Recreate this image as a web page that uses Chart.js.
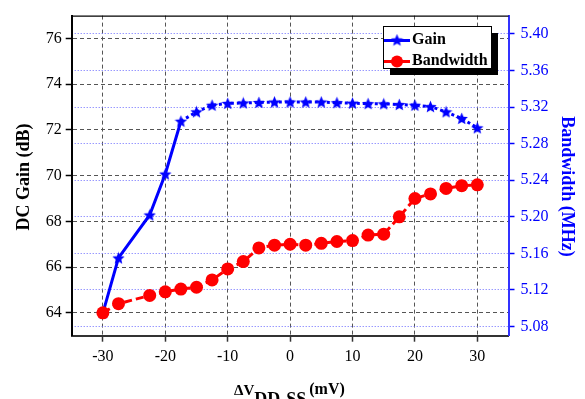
<!DOCTYPE html>
<html>
<head>
<meta charset="utf-8">
<script src="https://cdn.jsdelivr.net/npm/chart.js@4"></script>
<style>
  html, body { margin: 0; padding: 0; background: #fff; }
  #wrap { width: 585px; height: 399px; position: relative; }
</style>
</head>
<body>
<div id="wrap"><canvas id="c" width="585" height="399"></canvas></div>
<script>
// Supply-voltage offset sweep (mV)
const deltaV = [-30, -27.5, -22.5, -20, -17.5, -15, -12.5, -10, -7.5, -5, -2.5, 0,
                2.5, 5, 7.5, 10, 12.5, 15, 17.5, 20, 22.5, 25, 27.5, 30];
// DC gain (dB)
const gainDB = [64.0, 66.40, 68.28, 70.07, 72.38, 72.79, 73.08, 73.16, 73.18, 73.20, 73.22, 73.22,
                73.22, 73.22, 73.19, 73.17, 73.15, 73.14, 73.11, 73.08, 73.02, 72.79, 72.50, 72.09];
// Bandwidth (MHz)
const bandwidthMHz = [5.095, 5.105, 5.114, 5.118, 5.121, 5.123, 5.131, 5.143, 5.151, 5.166, 5.169, 5.170,
                      5.169, 5.171, 5.173, 5.174, 5.180, 5.181, 5.200, 5.220, 5.225, 5.231, 5.234, 5.235];
// Tick values
const xTicks = [-30, -20, -10, 0, 10, 20, 30];
const gainTicks = [64, 66, 68, 70, 72, 74, 76];
const bwTicks = [5.08, 5.12, 5.16, 5.20, 5.24, 5.28, 5.32, 5.36, 5.40];

const SERIF = "'Liberation Serif', 'Times New Roman', serif";
const BLUE = '#0000ff';
const RED = '#ff0000';

function starImage(size, color) {
  const c = document.createElement('canvas');
  c.width = c.height = size;
  const g = c.getContext('2d');
  g.fillStyle = color;
  g.beginPath();
  const cx = size / 2, cy = size / 2 + 0.6, R = size / 2, r = R * 0.45;
  for (let i = 0; i < 10; i++) {
    const a = -Math.PI / 2 + i * Math.PI / 5;
    const rr = i % 2 ? r : R;
    g.lineTo(cx + rr * Math.cos(a), cy + rr * Math.sin(a));
  }
  g.closePath();
  g.fill();
  return c;
}
const star = starImage(13, BLUE);

const gainPoints = deltaV.map((x, i) => ({ x, y: gainDB[i] }));
const bwPoints = deltaV.map((x, i) => ({ x, y: bandwidthMHz[i] }));

const decorations = {
  id: 'decorations',
  afterDraw(chart) {
    const ctx = chart.ctx;
    const a = chart.chartArea;
    ctx.save();
    // top frame line
    ctx.strokeStyle = '#000';
    ctx.lineWidth = 1.2;
    ctx.beginPath();
    ctx.moveTo(a.left, a.top + 0.5);
    ctx.lineTo(a.right, a.top + 0.5);
    ctx.stroke();

    // legend box with drop shadow
    const lx = 383, ly = 26, lw = 108, lh = 42;
    ctx.fillStyle = '#000';
    ctx.fillRect(lx + 7, ly + 7, lw, lh);
    ctx.fillStyle = '#fff';
    ctx.fillRect(lx, ly, lw, lh);
    ctx.strokeStyle = '#000';
    ctx.lineWidth = 1;
    ctx.strokeRect(lx + 0.5, ly + 0.5, lw, lh);

    ctx.lineWidth = 3;
    ctx.strokeStyle = BLUE;
    ctx.beginPath(); ctx.moveTo(384, 40.5); ctx.lineTo(410, 40.5); ctx.stroke();
    ctx.drawImage(star, 397 - 6.5, 40.5 - 7);
    ctx.strokeStyle = RED;
    ctx.beginPath(); ctx.moveTo(384, 61.5); ctx.lineTo(410, 61.5); ctx.stroke();
    ctx.fillStyle = RED;
    ctx.beginPath(); ctx.arc(397, 61.5, 6, 0, Math.PI * 2); ctx.fill();

    ctx.fillStyle = '#000';
    ctx.font = 'bold 16px ' + SERIF;
    ctx.textAlign = 'left';
    ctx.textBaseline = 'middle';
    ctx.fillText('Gain', 412, 40);
    ctx.fillText('Bandwidth', 412, 61);

    // axis titles
    ctx.font = 'bold 18px ' + SERIF;
    ctx.textAlign = 'center';
    ctx.save();
    ctx.translate(24, 177);
    ctx.rotate(-Math.PI / 2);
    ctx.fillStyle = '#000';
    ctx.fillText('DC Gain (dB)', 0, 0);
    ctx.restore();

    ctx.save();
    ctx.translate(567, 186.5);
    ctx.rotate(Math.PI / 2);
    ctx.fillStyle = BLUE;
    ctx.fillText('Bandwidth (MHz)', 0, 0);
    ctx.restore();

    // x title: ΔV with subscript DD-SS, then unit
    ctx.fillStyle = '#000';
    ctx.textAlign = 'left';
    ctx.textBaseline = 'alphabetic';
    let x = 234;
    ctx.font = 'bold 15px ' + SERIF;
    ctx.fillText('ΔV', x, 395);
    x += ctx.measureText('ΔV').width;
    ctx.font = 'bold 18px ' + SERIF;
    ctx.fillText('DD-SS', x, 405);
    x += ctx.measureText('DD-SS').width + 3;
    ctx.font = 'bold 16px ' + SERIF;
    ctx.fillText('(mV)', x, 394);
    ctx.restore();
  }
};

new Chart(document.getElementById('c'), {
  type: 'line',
  data: {
    datasets: [
      {
        label: 'Bandwidth',
        data: bwPoints,
        yAxisID: 'yBw',
        borderColor: RED,
        backgroundColor: RED,
        borderWidth: 3,
        borderDash: [8, 4],
        pointStyle: 'circle',
        pointRadius: 6.5,
        pointBorderWidth: 0,
        pointBackgroundColor: RED,
        tension: 0,
        fill: false
      },
      {
        label: 'Gain',
        data: gainPoints,
        yAxisID: 'yGain',
        borderColor: BLUE,
        backgroundColor: BLUE,
        borderWidth: 3,
        pointStyle: star,
        pointRadius: 6,
        segment: {
          borderDash: c => (c.p0.parsed.x < -17.5 ? [] : [3, 3])
        },
        tension: 0,
        fill: false
      }
    ]
  },
  options: {
    responsive: false,
    animation: false,
    devicePixelRatio: 1,
    layout: { padding: { top: 13.7, left: 0, right: 0, bottom: 0 } },
    plugins: {
      legend: { display: false },
      tooltip: { enabled: false }
    },
    scales: {
      x: {
        type: 'linear',
        min: -35,
        max: 35,
        afterBuildTicks: s => { s.ticks = xTicks.map(v => ({ value: v })); },
        afterFit: s => { s.height = 63.3; },
        grid: {
          color: '#555',
          lineWidth: 1,
          tickLength: 6,
          tickColor: '#333',
          tickWidth: 1.5
        },
        border: { display: true, color: '#333', width: 2, dash: [4, 3] },
        ticks: {
          color: '#000',
          padding: 5,
          maxRotation: 0,
          font: { family: SERIF, size: 16 }
        }
      },
      yGain: {
        type: 'linear',
        position: 'left',
        min: 63,
        max: 77,
        afterBuildTicks: s => { s.ticks = gainTicks.map(v => ({ value: v })); },
        afterFit: s => { s.width = 71.7; },
        grid: {
          color: '#555',
          lineWidth: 1,
          tickLength: 6,
          tickColor: '#000',
          tickWidth: 1.5
        },
        border: { display: true, color: '#000', width: 2, dash: [4, 3] },
        ticks: {
          color: '#000',
          padding: 4,
          font: { family: SERIF, size: 16 }
        }
      },
      yBw: {
        type: 'linear',
        position: 'right',
        min: 5.07,
        max: 5.42,
        afterBuildTicks: s => { s.ticks = bwTicks.map(v => ({ value: v })); },
        afterFit: s => { s.width = 76.5; },
        grid: {
          color: '#6a6aff',
          lineWidth: 1,
          tickLength: 6,
          tickColor: BLUE,
          tickWidth: 1.5
        },
        border: { display: true, color: '#3333ff', width: 2, dash: [1, 2] },
        ticks: {
          color: BLUE,
          padding: 6,
          font: { family: SERIF, size: 16 },
          callback: v => Number(v).toFixed(2)
        }
      }
    }
  },
  plugins: [decorations]
});
</script>
</body>
</html>
